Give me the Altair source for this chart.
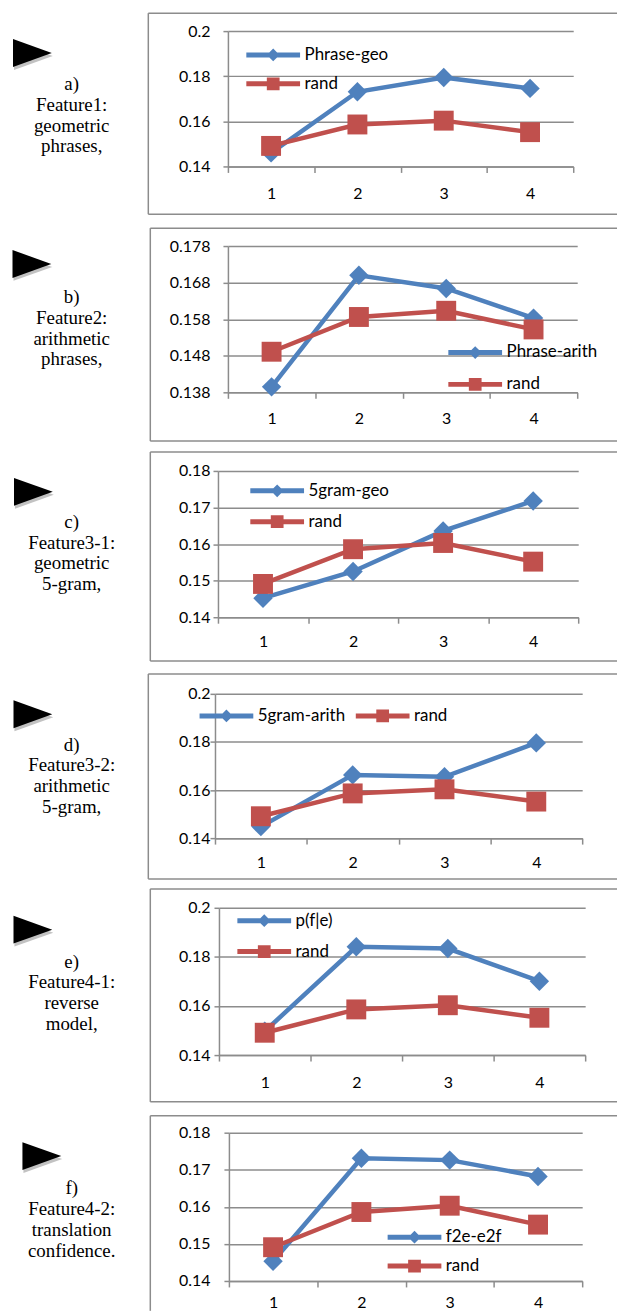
import altair as alt
import pandas as pd

# ---------------- data ----------------
x_labels = ["1", "2", "3", "4"]
rand_vals = [0.1491, 0.1586, 0.1603, 0.1552]

names = ["Phrase-geo", "Phrase-arith", "5gram-geo", "5gram-arith", "p(f|e)", "f2e-e2f"]
phrase_geo = [0.1460, 0.1731, 0.1794, 0.1746]
phrase_arith = [0.1395, 0.1700, 0.1664, 0.1583]
gram5_geo = [0.1452, 0.1525, 0.1636, 0.1718]
gram5_arith = [0.1448, 0.1663, 0.1655, 0.1796]
p_f_e = [0.1497, 0.1841, 0.1834, 0.1701]
f2e_e2f = [0.1453, 0.1731, 0.1726, 0.1682]
series_vals = [phrase_geo, phrase_arith, gram5_geo, gram5_arith, p_f_e, f2e_e2f]

ticks_a = [0.14, 0.16, 0.18, 0.2]
ticks_b = [0.138, 0.148, 0.158, 0.168, 0.178]
ticks_c = [0.14, 0.15, 0.16, 0.17, 0.18]
ticks_d = [0.14, 0.16, 0.18, 0.2]
ticks_e = [0.14, 0.16, 0.18, 0.2]
ticks_f = [0.14, 0.15, 0.16, 0.17, 0.18]
tick_sets = [ticks_a, ticks_b, ticks_c, ticks_d, ticks_e, ticks_f]
tick_formats = [".2~f", ".3~f", ".2~f", ".2~f", ".2~f", ".2~f"]

captions = [
    ["a)", "Feature1:", "geometric", "phrases,"],
    ["b)", "Feature2:", "arithmetic", "phrases,"],
    ["c)", "Feature3-1:", "geometric", "5-gram,"],
    ["d)", "Feature3-2:", "arithmetic", "5-gram,"],
    ["e)", "Feature4-1:", "reverse", "model,"],
    ["f)", "Feature4-2:", "translation", "confidence."],
]

# ---------------- layout / style (page pixels) ----------------
BLUE = "#4F81BD"
RED = "#C0504D"
GRAY = "#8c8c8c"
PAGE_RIGHT = 617

geom = [
    dict(plot=(226, 573, 27, 163), box=(146, 9, 211), row=(8, 217), arrow=(29.5, 49),
         cap=(69, 80), leg=(271, 51, 28, "vertical"), xpad=13),
    dict(plot=(226, 577, 241, 388), box=(148, 223, 437), row=(217, 441), arrow=(29, 259),
         cap=(69, 292), leg=(474, 348, 31, "vertical"), xpad=12),
    dict(plot=(216, 578, 465, 612), box=(148, 446, 656), row=(441, 661), arrow=(30.5, 486),
         cap=(69, 516), leg=(275, 485, 30, "vertical"), xpad=10),
    dict(plot=(213, 582, 687, 832), box=(146, 667, 873), row=(661, 877), arrow=(30, 707.5),
         cap=(69, 738), leg=(224, 709, 0, "horizontal"), xpad=11),
    dict(plot=(217, 585, 900, 1048), box=(148, 881, 1095), row=(877, 1101), arrow=(30, 922),
         cap=(69, 954), leg=(262, 913, 30, "vertical"), xpad=14),
    dict(plot=(227, 582, 1124, 1273), box=(148, 1107, None), row=(1101, 1303), arrow=(39, 1147.5),
         cap=(69, 1180), leg=(413, 1229, 28, "vertical"), xpad=8),
]

LINE_PATH = "M-3.375,-0.3125H3.375V0.3125H-3.375Z"
DI_PATH = LINE_PATH + "M0,-0.8L0.8,0L0,0.8L-0.8,0Z"
SQ_PATH = LINE_PATH + "M-0.8,-0.8H0.8V0.8H-0.8Z"
ARROW_PATH = "M-1,-0.718L1,0L-1,0.718Z"

one = pd.DataFrame({"k": [0]})


def panel(i):
    name = names[i]
    vals = series_vals[i]
    ticks = tick_sets[i]
    g = geom[i]
    L, R, T, B = g["plot"]
    W, H = R - L, B - T

    def rx(px):
        return px - L

    def ry(py):
        return py - T

    df = pd.DataFrame({
        "x": x_labels + x_labels,
        "y": vals + rand_vals,
        "series": [name] * 4 + ["rand"] * 4,
    })

    cx, cy, pitch, direction = g["leg"]
    legend = alt.Legend(
        orient="none", legendX=rx(cx) - 8, legendY=ry(cy) - 8.5,
        direction=direction, title=None, padding=0,
        symbolSize=256, symbolStrokeWidth=0, symbolOpacity=1,
        labelFont="Lato", labelFontSize=17, labelColor="black", labelOffset=23,
        rowPadding=max(pitch - 17, 0), columnPadding=10,
    )
    color = alt.Color("series:N", scale=alt.Scale(domain=[name, "rand"], range=[BLUE, RED]),
                      legend=legend)
    shape = alt.Shape("series:N", scale=alt.Scale(domain=[name, "rand"], range=[DI_PATH, SQ_PATH]),
                      legend=legend)
    xenc = alt.X("x:N", sort=x_labels,
                 scale=alt.Scale(type="band", paddingInner=0, paddingOuter=0),
                 axis=alt.Axis(title=None, labelAngle=0, tickBand="extent", grid=False,
                               domainColor=GRAY, domainWidth=1.5, tickColor=GRAY,
                               tickWidth=1.5, tickSize=6, labelFont="Lato", labelFontSize=16,
                               labelColor="black", labelPadding=g["xpad"]))
    yenc = alt.Y("y:Q", scale=alt.Scale(domain=[ticks[0], ticks[-1]], nice=False, zero=False),
                 axis=alt.Axis(title=None, values=ticks, format=tick_formats[i],
                               domainColor=GRAY, domainWidth=1.5, tickColor=GRAY,
                               tickWidth=1.5, tickSize=5, gridColor=GRAY, gridWidth=1.5,
                               labelFont="Lato", labelFontSize=16, labelColor="black",
                               labelPadding=max(L - 208 - 5, 0)))

    base = alt.Chart(df)
    legend_src = base.transform_filter("false").mark_point(
        filled=True, size=256, opacity=1, strokeWidth=0).encode(
        x=xenc, y=yenc, color=color, shape=shape)
    blue_line = base.transform_filter(alt.datum.series == name).mark_line(
        strokeWidth=4.5).encode(x=xenc, y=yenc, color=color)
    blue_pts = base.transform_filter(alt.datum.series == name).mark_point(
        shape="diamond", filled=True, size=380, opacity=1).encode(x=xenc, y=yenc, color=color)
    red_line = base.transform_filter(alt.datum.series == "rand").mark_line(
        strokeWidth=4.5).encode(x=xenc, y=yenc, color=color)
    red_pts = base.transform_filter(alt.datum.series == "rand").mark_point(
        shape="square", filled=True, size=400, opacity=1).encode(x=xenc, y=yenc, color=color)

    deco = alt.Chart(one)
    r0, r1 = g["row"]
    # invisible extent of the whole panel (page x 9..PAGE_RIGHT, row top..bottom)
    extent = deco.mark_rect(fill="white", opacity=0).encode(
        x=alt.value(rx(9)), x2=alt.value(rx(PAGE_RIGHT)),
        y=alt.value(ry(r0)), y2=alt.value(ry(r1)))
    bl, bt, bb = g["box"]
    layers = [extent]
    layers.append(deco.mark_rule(color=GRAY, strokeWidth=1.5).encode(
        x=alt.value(rx(bl)), x2=alt.value(rx(PAGE_RIGHT)), y=alt.value(ry(bt))))
    layers.append(deco.mark_rule(color=GRAY, strokeWidth=1.5).encode(
        x=alt.value(rx(bl)), y=alt.value(ry(bt)),
        y2=alt.value(ry(bb if bb is not None else r1))))
    if bb is not None:
        layers.append(deco.mark_rule(color=GRAY, strokeWidth=1.5).encode(
            x=alt.value(rx(bl)), x2=alt.value(rx(PAGE_RIGHT)), y=alt.value(ry(bb))))
    ax, ay = g["arrow"]
    layers.append(deco.mark_point(shape=ARROW_PATH, filled=True, color="#777777",
                                  opacity=0.45, size=1521, strokeWidth=0).encode(
        x=alt.value(rx(ax) + 1), y=alt.value(ry(ay) + 3)))
    layers.append(deco.mark_point(shape=ARROW_PATH, filled=True, color="black",
                                  opacity=1, size=1521, strokeWidth=0).encode(
        x=alt.value(rx(ax)), y=alt.value(ry(ay))))
    tx, ty = g["cap"]
    layers.append(deco.mark_text(text=captions[i], font="Liberation Serif", fontSize=19,
                                 lineHeight=21, align="center", baseline="middle",
                                 color="black").encode(
        x=alt.value(rx(tx)), y=alt.value(ry(ty))))
    layers += [legend_src, blue_line, blue_pts, red_line, red_pts]
    layered = alt.layer(*layers).properties(width=W, height=H)
    # a 1px spacer in the first column makes the panel's left edge, not its plot origin, line up
    spacer = alt.Chart(one).mark_rect(opacity=0).encode(
        x=alt.value(0), x2=alt.value(1), y=alt.value(0), y2=alt.value(1)).properties(
        width=1, height=1)
    return alt.hconcat(spacer, layered, spacing=0).resolve_scale(color="independent",
                                                                  shape="independent")


chart = alt.vconcat(*[panel(i) for i in range(6)], spacing=0).resolve_scale(
    color="independent", shape="independent").properties(padding=0).configure_view(
    stroke="transparent")

chart.save("out.html", embed_options={"renderer": "svg", "actions": False})
